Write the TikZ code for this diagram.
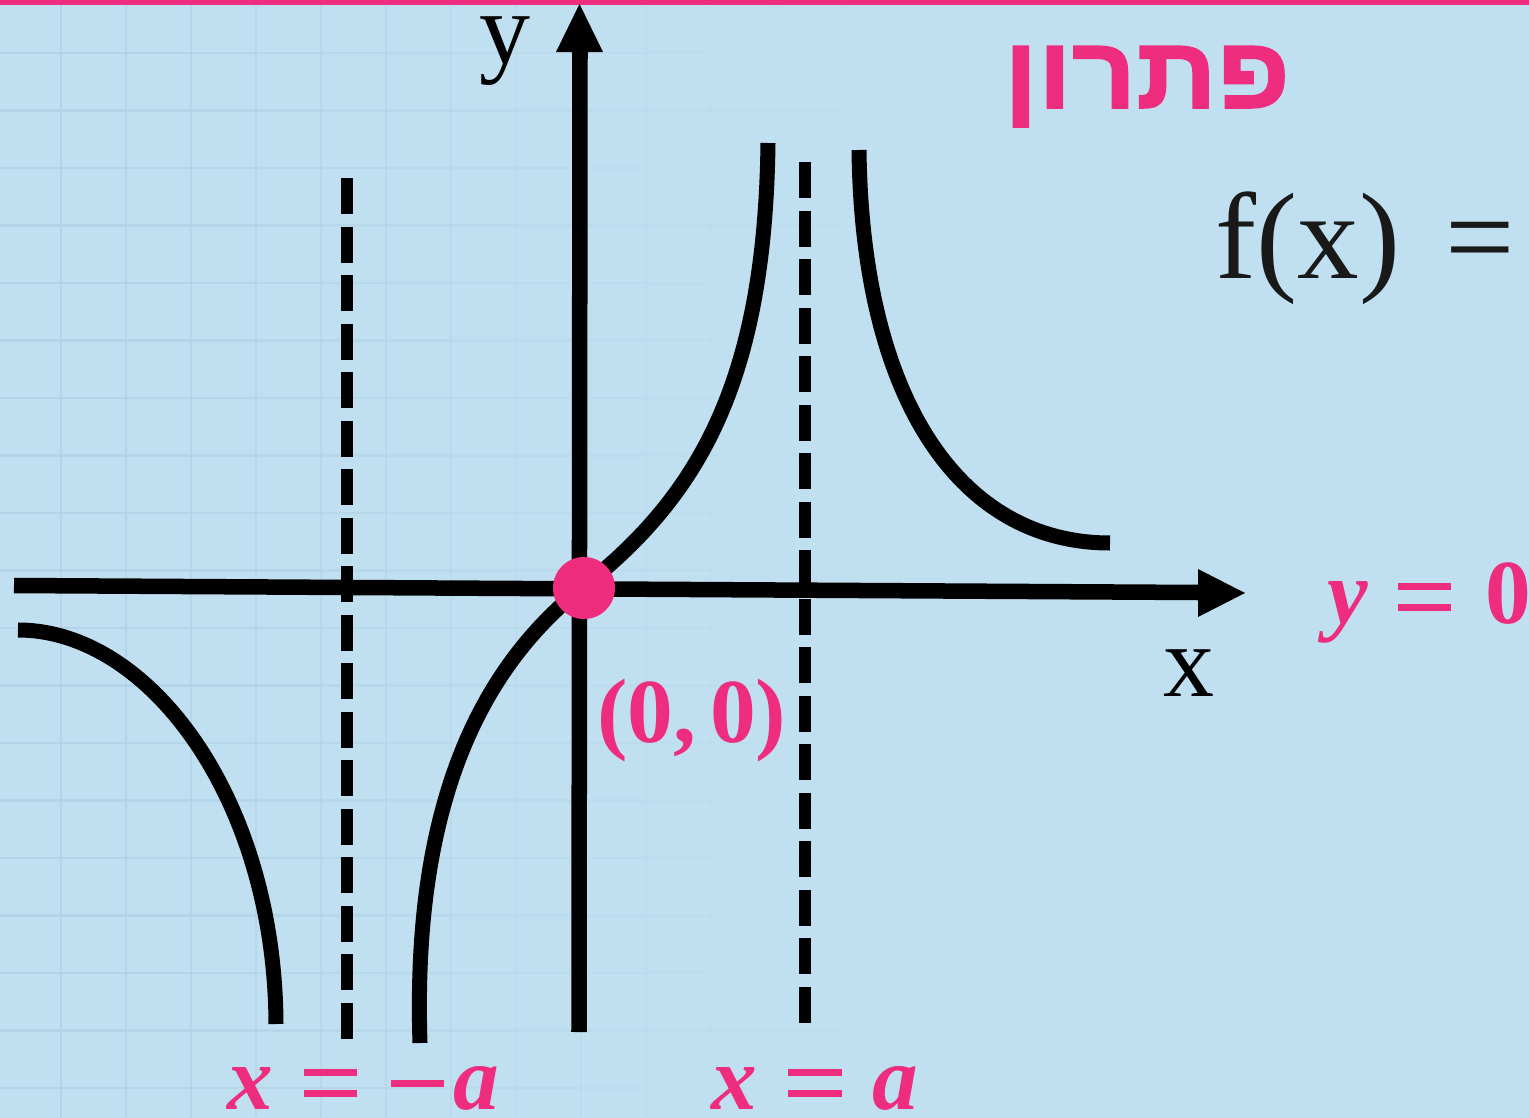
\RequirePackage{fix-cm}
\documentclass[tikz,border=0pt]{standalone}
\usepackage{amsmath}
\usepackage{fontspec}
\setmainfont{Liberation Serif}
\newfontfamily\hebfont[Script=Hebrew,BoldFeatures={FakeBold=1.5}]{Liberation Sans}
\TeXXeTstate=1
\definecolor{pinkc}{RGB}{238,45,126}
\definecolor{bgc}{RGB}{192,224,241}
\definecolor{gridc}{RGB}{176,210,230}
\definecolor{fxc}{RGB}{25,25,25}
\newcommand\peq{\rule[0.13em]{0.58em}{0.075em}\hspace{-0.58em}\rule[0.36em]{0.58em}{0.075em}}
\newcommand\pminus{\rule[0.245em]{0.58em}{0.075em}}
\begin{document}
\begin{tikzpicture}[x=0.01cm,y=-0.01cm,
  curve/.style={line width=0.15cm},
  axisline/.style={line width=0.155cm},
  axishead/.style={fill=black},
  asym/.style={line width=0.12cm, dash pattern=on 0.36cm off 0.125cm},
  lbl/.style={text=pinkc, inner sep=0pt, font=\fontsize{26}{30}\selectfont\bfseries},
  axlbl/.style={inner sep=0pt, font=\fontsize{29}{34}\selectfont}]
\useasboundingbox (0,0) rectangle (1529,1118);
\fill[bgc] (0,0) rectangle (1529,1118);
% faint grid, fading to the right
\foreach \k in {0,...,18} {
  \pgfmathsetmacro{\xv}{-4+65*\k}
  \pgfmathsetmacro{\op}{max(0,0.85-\xv/1000)}
  \draw[gridc, line width=0.025cm, opacity=\op] (\xv,0) -- (\xv,1118);
  \foreach \m in {0,...,19} {
    \pgfmathsetmacro{\yh}{-4.5+57.5*\m}
    \draw[gridc, line width=0.025cm, opacity=\op] (\xv,\yh) -- ++(65,0);
  }
}
% top pink rule
\fill[pinkc] (0,0) rectangle (1529,5);
% asymptotes
\coordinate (la1) at (347,178); \coordinate (la2) at (347,1040);
\coordinate (ra1) at (805,162); \coordinate (ra2) at (805,1025);
\draw[asym] (la1) -- (la2);
\draw[asym] (ra1) -- (ra2);
% axes
\coordinate (xs) at (14,585.5); \coordinate (xe) at (1198,592.5);
\coordinate (ys) at (579,1032); \coordinate (ye) at (580,52);
\draw[axisline] (xs) -- (xe);
\fill[axishead] (1198,569) -- (1245,593) -- (1198,617) -- cycle;
\draw[axisline] (ys) -- (ye);
\fill[axishead] (556,52) -- (579.5,4) -- (603,52) -- cycle;
% curves
\draw[curve] (18,630) .. controls (150,630) and (275,800) .. (276,1024);
\draw[curve] (420,1043) .. controls (412,800) and (483,666) .. (583,587)
  .. controls (700,495) and (765,380) .. (768,143);
\draw[curve] (859,150) .. controls (862,400) and (960,543) .. (1110,543);
% origin dot
\node[circle, fill=pinkc, minimum size=0.62cm, inner sep=0pt] (o) at (584,588) {};
% axis labels
\node[axlbl, anchor=base] (ylab) at (505,64) {y};
\node[axlbl, anchor=base] (xlab) at (1189,696) {x};
\node[anchor=base west, inner sep=0pt, text=fxc, font=\fontsize{35}{40}\selectfont] (fx) at (1215,278) {f(x)\hspace{0.12em} =};
% title
\node[anchor=base, inner sep=0pt, text=pinkc, font=\hebfont\bfseries\fontsize{29}{34}\selectfont] (title) at (1147,108) {\scalebox{1.1}[1]{\beginR פתרון\endR}};
% pink labels
\node[lbl] (orig) [anchor=base] at (692,742) {(0,\hspace{0.15em}0)};
\node[lbl, anchor=base west] (y0) at (1327,623) {\itshape y\hspace{0.33em}\upshape\peq\hspace{0.37em}0};
\node[lbl, anchor=base] (xma) at (363,1109) {\itshape x\hspace{0.34em}\peq\hspace{0.37em}\pminus\hspace{0.1em}a};
\node[lbl, anchor=base] (xa) at (815,1109) {\itshape x\hspace{0.34em}\peq\hspace{0.34em}a};
\end{tikzpicture}
\end{document}
